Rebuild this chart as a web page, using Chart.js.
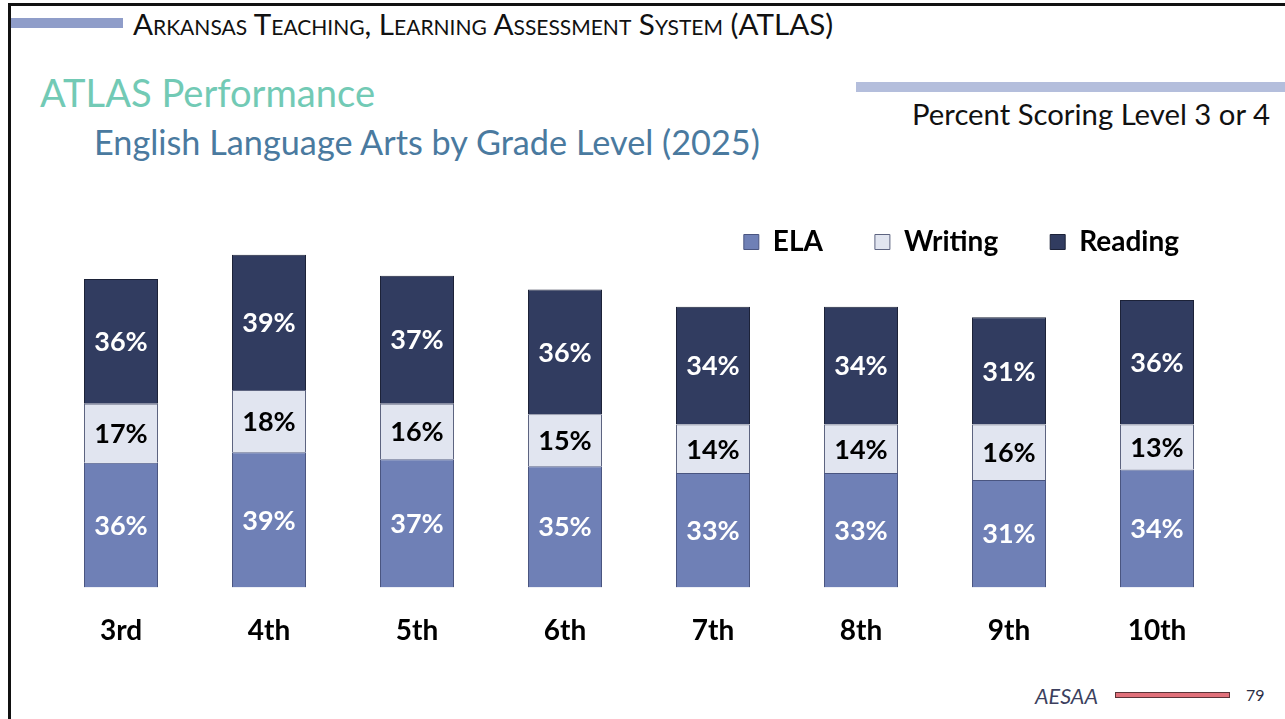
<!DOCTYPE html>
<html>
<head>
<meta charset="utf-8">
<script src="https://cdn.jsdelivr.net/npm/chart.js@4"></script>
<style>
  html, body { margin: 0; padding: 0; background: #fff; }
  body { width: 1285px; height: 719px; position: relative; overflow: hidden; font-family: Lato, "Open Sans", sans-serif; }
  .frameTop { position: absolute; left: 8px; top: 3px; width: 1277px; height: 3px; background: #111; }
  .frameLeft { position: absolute; left: 8px; top: 3px; width: 3px; height: 716px; background: #111; }
  .hbar { position: absolute; left: 11px; top: 18px; width: 112px; height: 10px; background: #8f9dc9; }
  .fit { position: absolute; white-space: nowrap; line-height: 1; }
  .htext { left: 133px; top: 9px; font-size: 28px; font-variant: small-caps; color: #111; }
  .title { left: 40px; top: 73px; font-size: 38px; color: #72cab5; }
  .subtitle { left: 94px; top: 125px; font-size: 34px; color: #4a7a9f; }
  .rbar { position: absolute; left: 856px; top: 82px; width: 429px; height: 10px; background: #b4bedc; }
  .rtext { right: 15px; top: 99px; font-size: 29px; color: #111; }
  .aesaa { left: 1035px; top: 686px; font-size: 21px; font-style: italic; color: #3c3f5e; }
  .redbar { position: absolute; left: 1115px; top: 692px; width: 113px; height: 4px; background: #e0707a; border: 1px solid #5a3338; }
  .pg { left: 1246px; top: 687px; font-size: 16px; color: #2a2d45; }
  #wrap { position: absolute; left: 0; top: 176px; width: 1285px; height: 505px; }
</style>
</head>
<body>
<div class="frameTop"></div>
<div class="frameLeft"></div>
<div class="hbar"></div>
<div class="fit htext" data-w="704">Arkansas Teaching, Learning Assessment System (ATLAS)</div>
<div class="fit title" data-w="335">ATLAS Performance</div>
<div class="fit subtitle" data-w="666">English Language Arts by Grade Level (2025)</div>
<div class="rbar"></div>
<div class="fit rtext" data-w="358">Percent Scoring Level 3 or 4</div>
<div class="fit aesaa" data-w="63">AESAA</div>
<div class="redbar"></div>
<div class="fit pg">79</div>
<div id="wrap"><canvas id="c"></canvas></div>
<script>
// fit header texts to the widths seen in the reference
document.querySelectorAll('.fit[data-w]').forEach(el => {
  const target = parseFloat(el.dataset.w);
  const fs = parseFloat(getComputedStyle(el).fontSize);
  const w = el.getBoundingClientRect().width;
  if (w > 0) el.style.fontSize = (fs * target / w).toFixed(2) + 'px';
});

const grades = ["3rd", "4th", "5th", "6th", "7th", "8th", "9th", "10th"];
const elaValues = [36, 39, 37, 35, 33, 33, 31, 34];
const writingValues = [17, 18, 16, 15, 14, 14, 16, 13];
const readingValues = [36, 39, 37, 36, 34, 34, 31, 36];
const seriesNames = ["ELA", "Writing", "Reading"];

const FONT = "Lato, 'Open Sans', sans-serif";

const labelPlugin = {
  id: 'segLabels',
  afterDatasetsDraw(chart) {
    const ctx = chart.ctx;
    ctx.save();
    ctx.font = "bold 27px " + FONT;
    ctx.textAlign = 'center';
    ctx.textBaseline = 'middle';
    chart.data.datasets.forEach((ds, di) => {
      const meta = chart.getDatasetMeta(di);
      meta.data.forEach((el, i) => {
        const p = el.getProps(['x', 'y', 'base'], true);
        ctx.fillStyle = ds.labelColor;
        ctx.fillText(ds.data[i] + '%', p.x, (p.y + p.base) / 2 + 1);
      });
    });
    ctx.restore();
  }
};

// let the (height-limited) legend draw its full row, overlapping the empty top of the plot
const legendUnclip = {
  id: 'legendUnclip',
  afterLayout(chart) {
    if (chart.legend) {
      chart.legend.bottom = chart.legend.top + 100;
      chart.legend.height = 100;
    }
  }
};

new Chart(document.getElementById('c'), {
  type: 'bar',
  data: {
    labels: grades,
    datasets: [
      { label: seriesNames[0], data: elaValues, backgroundColor: '#6f80b6', borderColor: '#4a5580', borderWidth: 1, labelColor: '#ffffff' },
      { label: seriesNames[1], data: writingValues, backgroundColor: '#e1e5f0', borderColor: '#5d6480', borderWidth: 1, labelColor: '#000000' },
      { label: seriesNames[2], data: readingValues, backgroundColor: '#313c60', borderColor: '#1c2238', borderWidth: 1, labelColor: '#ffffff' }
    ]
  },
  options: {
    responsive: true,
    maintainAspectRatio: false,
    animation: false,
    devicePixelRatio: 1,
    layout: { padding: { left: 47, right: 54, top: 0, bottom: 14 } },
    datasets: { bar: { categoryPercentage: 1, barPercentage: 0.5 } },
    scales: {
      x: {
        stacked: true,
        grid: { display: false },
        border: { display: false },
        ticks: { color: '#000', font: { family: FONT, size: 28, weight: 'bold' }, padding: 19 }
      },
      y: {
        stacked: true,
        display: false,
        min: 0,
        max: 100
      }
    },
    plugins: {
      legend: {
        position: 'top',
        align: 'end',
        maxHeight: 65,
        labels: {
          color: '#000',
          font: { family: FONT, size: 28, weight: 'bold' },
          boxWidth: 15,
          boxHeight: 15,
          padding: 52
        }
      },
      tooltip: { enabled: false }
    }
  },
  plugins: [labelPlugin, legendUnclip]
});
</script>
</body>
</html>
